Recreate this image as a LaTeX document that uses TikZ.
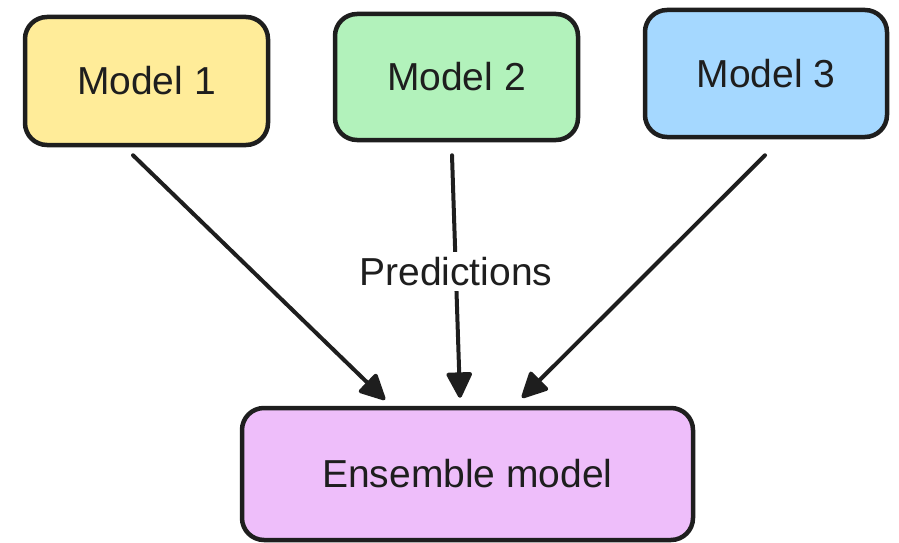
\documentclass[tikz,border=0pt]{standalone}
\usepackage{fontspec}
\setmainfont{Liberation Sans}
\usetikzlibrary{arrows.meta,calc}
\definecolor{ink}{HTML}{1E1E1E}
\definecolor{yel}{HTML}{FFEC99}
\definecolor{grn}{HTML}{B2F2BB}
\definecolor{blu}{HTML}{A5D8FF}
\definecolor{vio}{HTML}{EEBEFA}
\tikzset{
  model/.style={draw=ink, line width=4.5pt, rounded corners=22pt,
    text=ink, font=\fontsize{39}{44}\selectfont, inner sep=0pt},
  flow/.style={draw=ink, line width=4pt, line cap=round,
    -{Triangle[length=28pt,width=27pt,round]}},
  lbl/.style={fill=white, text=ink, font=\fontsize{39}{44}\selectfont, inner sep=5pt}
}
\begin{document}
\begin{tikzpicture}[x=1pt,y=-1pt]
  \useasboundingbox (0,0) rectangle (899,543);
  % the three base models
  \node[model, fill=yel, minimum width=243pt, minimum height=128pt] (m1) at (146.5,81) {Model 1};
  \node[model, fill=grn, minimum width=243pt, minimum height=126pt] (m2) at (456.5,77) {Model 2};
  \node[model, fill=blu, minimum width=242pt, minimum height=127pt] (m3) at (766,73.5) {Model 3};
  % combining model
  \node[model, fill=vio, minimum width=451pt, minimum height=132pt] (ens) at (467.5,474) {Ensemble model};
  % prediction flows
  \draw[flow] ($(m1.south)+(-13.5,8)$) -- ($(ens.north)+(-82.5,-6)$);
  \draw[flow] ($(m2.south)+(-4.5,13)$) -- node[lbl, pos=0.48] (pred) {Predictions} ($(ens.north)+(-7.5,-8)$);
  \draw[flow] ($(m3.south)+(-1,16)$) -- ($(ens.north)+(54.5,-8)$);
\end{tikzpicture}
\end{document}
